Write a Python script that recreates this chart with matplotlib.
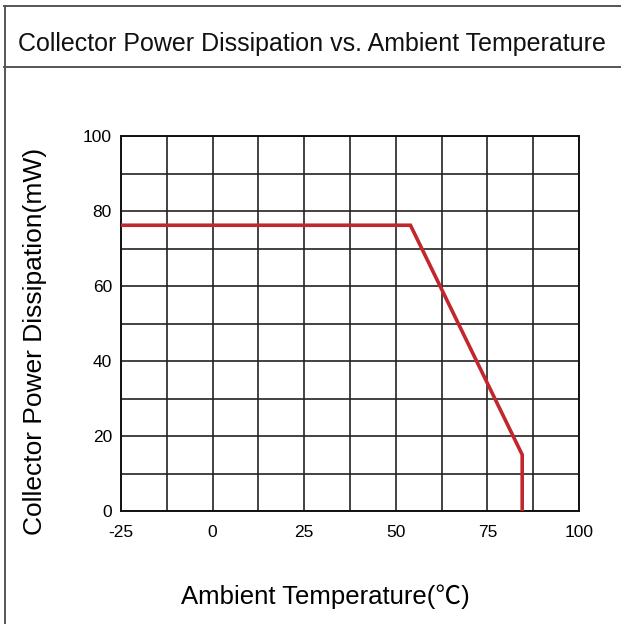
import matplotlib
matplotlib.use("Agg")
import matplotlib.pyplot as plt
from matplotlib.lines import Line2D

plt.rcParams['font.family'] = ['Liberation Sans', 'Noto Sans CJK SC', 'DejaVu Sans']

# Derating curve: ambient temperature (°C) vs. collector power dissipation (mW)
temperature = [-25, 54, 84.5, 84.5]
power = [76.2, 76.2, 15, 0]

x_ticks = [-25, 0, 25, 50, 75, 100]
y_ticks = [0, 20, 40, 60, 80, 100]

title = "Collector Power Dissipation vs. Ambient Temperature"
x_label = "Ambient Temperature(\u2103)"
y_label = "Collector Power Dissipation(mW)"

W, H = 621, 624
fig = plt.figure(figsize=(W / 100, H / 100), dpi=100)

# Frame: left and top border plus the rule under the title
frame_color = '#555555'
def fx(px):
    return px / W
def fy(py):
    return 1 - py / H

fig.add_artist(Line2D([fx(4.5), fx(4.5)], [fy(6), fy(H)], color=frame_color, lw=1.4))
fig.add_artist(Line2D([fx(4), 1], [fy(6), fy(6)], color=frame_color, lw=1.4))
fig.add_artist(Line2D([fx(4), 1], [fy(67), fy(67)], color=frame_color, lw=1.4))

fig.text(fx(312), fy(44), title, ha='center', va='center', fontsize=18, color='#111111')

ax = fig.add_axes([121 / W, (H - 511) / H, 458 / W, 375 / H])
ax.set_xlim(-25, 100)
ax.set_ylim(0, 100)

# Grid every 12.5 °C and every 10 mW
ax.set_xticks([-25 + 12.5 * i for i in range(11)], minor=True)
ax.set_yticks(list(range(0, 101, 10)), minor=True)
ax.set_xticks(x_ticks)
ax.set_yticks(y_ticks)
ax.set_xticklabels([str(v) for v in x_ticks])
ax.set_yticklabels([str(v) for v in y_ticks])
ax.grid(True, which='both', color='#222222', lw=1.2)
ax.tick_params(which='both', length=0)
ax.tick_params(axis='x', pad=10, labelsize=12.5)
ax.tick_params(axis='y', pad=6.5, labelsize=12.5)
for s in ax.spines.values():
    s.set_color('#111111')
    s.set_linewidth(1.4)

ax.plot(temperature, power, color='#c1272d', lw=2.6, solid_joinstyle='miter', zorder=5)

ax.set_xlabel(x_label, fontsize=18.5, va='center')
ax.xaxis.set_label_coords((325 - 121) / 458, (511 - 597) / 375)
ax.set_ylabel(y_label, fontsize=19, va='center')
ax.yaxis.set_label_coords((35 - 121) / 458, (511 - 341) / 375)

fig.savefig('out.png', dpi=100)
